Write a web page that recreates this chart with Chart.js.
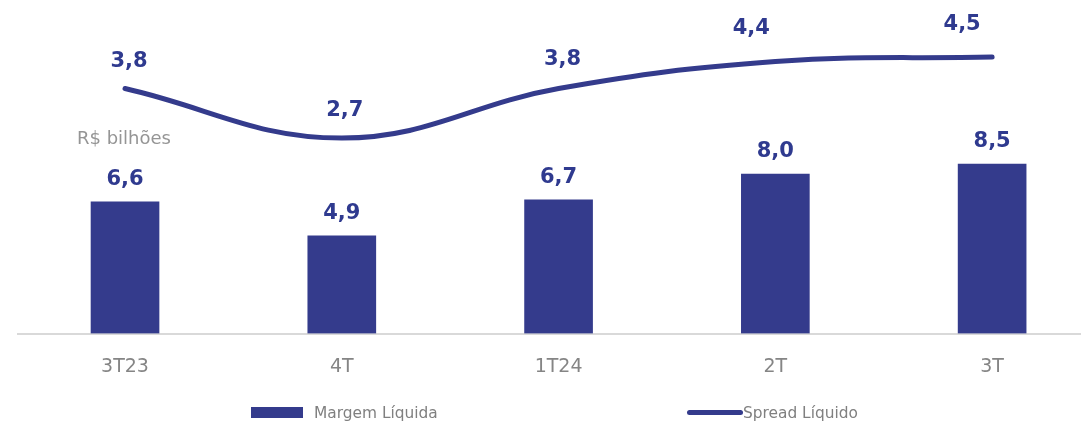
<!DOCTYPE html>
<html>
<head>
<meta charset="utf-8">
<script src="https://cdn.jsdelivr.net/npm/chart.js@4.4.1/dist/chart.umd.min.js"></script>
<style>
  html, body { margin: 0; padding: 0; background: #ffffff; overflow: hidden; }
  #wrap { position: relative; width: 1081px; height: 423px; }
  canvas { position: absolute; left: 0; top: 0; }
  .txt { position: absolute; font-family: "DejaVu Sans", sans-serif; white-space: nowrap; }
  #unit { left: 77px; top: 129px; font-size: 18px; line-height: 18px; color: #959595; font-weight: 400; }
  .legText { font-size: 15.4px; line-height: 16px; color: #808080; top: 405px; }
  #sw1 { position: absolute; left: 251px; top: 407px; width: 52px; height: 11px; background: #343B8C; }
  #sw2 { position: absolute; left: 687px; top: 409.5px; width: 56px; height: 5px; border-radius: 3px; background: #343B8C; }
</style>
</head>
<body>
<div id="wrap">
  <canvas id="c" width="1081" height="423"></canvas>
  <div class="txt" id="unit">R$ bilhões</div>
  <div id="sw1"></div>
  <div class="txt legText" style="left:314px">Margem Líquida</div>
  <div id="sw2"></div>
  <div class="txt legText" style="left:743px">Spread Líquido</div>
</div>
<script>
// ---- data ----
const categories = ["3T23", "4T", "1T24", "2T", "3T"];
const margemLiquida = [6.6, 4.9, 6.7, 8.0, 8.5];
const spreadLiquido = [3.8, 2.7, 3.8, 4.4, 4.5];

// ---- styles ----
const BLUE = "#343B8C";
const LABEL_BLUE = "#2F3A8F";
const lineLabelOffsets = [[4, -22], [3, -22], [4, -24], [-24, -28], [-30, -27]];
const barLabelOffset = -17;

const fmt = v => v.toFixed(1).replace(".", ",");

const valueLabels = {
  id: "valueLabels",
  afterDatasetsDraw(chart) {
    const ctx = chart.ctx;
    ctx.save();
    ctx.font = "bold 21px 'DejaVu Sans'";
    ctx.fillStyle = LABEL_BLUE;
    ctx.textAlign = "center";
    ctx.textBaseline = "alphabetic";
    chart.data.datasets.forEach((ds, di) => {
      const meta = chart.getDatasetMeta(di);
      meta.data.forEach((el, i) => {
        const v = ds.data[i].y;
        if (ds.type === "line") {
          const o = lineLabelOffsets[i];
          ctx.fillText(fmt(v), el.x + o[0], el.y + o[1]);
        } else {
          ctx.fillText(fmt(v), el.x, el.y + barLabelOffset);
        }
      });
    });
    ctx.restore();
  }
};

new Chart(document.getElementById("c"), {
  data: {
    datasets: [
      {
        type: "line",
        label: "Spread Líquido",
        data: spreadLiquido.map((v, i) => ({ x: i, y: v })),
        yAxisID: "y2",
        borderColor: BLUE,
        borderWidth: 5,
        borderCapStyle: "round",
        tension: 0.4,
        pointRadius: 0,
        fill: false
      },
      {
        type: "bar",
        label: "Margem Líquida",
        data: margemLiquida.map((v, i) => ({ x: i, y: v })),
        yAxisID: "y",
        backgroundColor: BLUE,
        barThickness: 68,
        borderWidth: 0
      }
    ]
  },
  options: {
    responsive: false,
    animation: false,
    devicePixelRatio: 1,
    layout: { padding: { left: 18, right: 0, top: 0, bottom: 0 } },
    plugins: { legend: { display: false }, tooltip: { enabled: false } },
    scales: {
      x: {
        type: "linear",
        position: "bottom",
        offset: false,
        bounds: "data",
        min: -0.4937,
        max: 4.41,
        grid: { display: false, drawTicks: false, offset: false },
        border: { display: true, color: "#d9d9d9", width: 2 },
        afterBuildTicks: s => { s.ticks = categories.map((_, i) => ({ value: i })); },
        afterFit: s => { s.height = 89.5; },
        ticks: {
          autoSkip: false,
          maxRotation: 0,
          padding: 22,
          color: "#858585",
          font: { family: "DejaVu Sans", size: 19, weight: 400 },
          callback: v => categories[v] ?? ""
        }
      },
      y: { display: false, min: 0, max: 16.73 },
      y2: { display: false, min: -1.643, max: 5.768 }
    }
  },
  plugins: [valueLabels]
});
</script>
</body>
</html>
